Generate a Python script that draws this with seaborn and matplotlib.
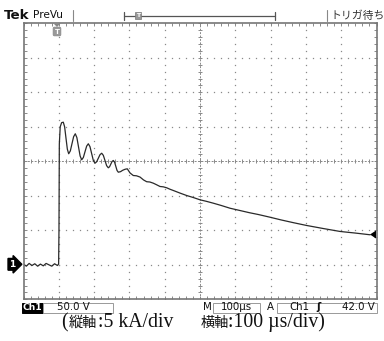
import numpy as np
import matplotlib
matplotlib.use("Agg")
import matplotlib.pyplot as plt
import seaborn as sns
from matplotlib.patches import Rectangle, Polygon
from matplotlib.lines import Line2D

# ---- data (time in µs, current in kA) ----
time_us = [0, 8, 16, 24, 32, 40, 48, 56, 64, 72, 80, 88, 96, 99.5,
           100.5, 101.5, 104, 108, 112.7,
           116.5, 120.3, 124.2, 128, 132.7, 137.3, 142, 146.7,
           151.2, 155.8, 160.4, 164.9, 169.6, 174.2, 178.9, 183.6,
           188.3, 193, 197.8, 202.5, 207.2, 212, 216.7, 221.5,
           226.2, 230.8, 235.5, 240.2, 243.8, 247.3, 250.9, 254.4,
           258, 261.5, 265, 268.6, 275, 281, 288, 294, 302, 311,
           320, 330, 340, 349, 358, 367.7, 377, 386.7, 396,
           405.7, 415, 424.4, 443, 462.3, 481, 500, 518, 537.7, 560, 585, 613,
           640, 665, 698, 730, 765, 802, 850, 897, 940, 982]
current_kA = [0.1, -0.2, 0.2, -0.1, 0.15, -0.2, 0.1, -0.15, 0.2, 0.0, -0.2, 0.15, -0.1, 0.1,
              5.0, 17.5, 20.0, 20.6, 20.67,
              20.0, 18.38, 16.76, 16.09, 16.51, 17.54, 18.57, 18.99,
              18.44, 17.1, 15.77, 15.22, 15.56, 16.38, 17.2, 17.54,
              17.13, 16.13, 15.13, 14.72, 14.93, 15.45, 15.96, 16.17,
              15.86, 15.12, 14.37, 14.06, 14.21, 14.59, 14.97, 15.12,
              14.87, 14.27, 13.67, 13.42, 13.5, 13.7, 13.85, 13.91, 13.3, 12.94,
              12.9, 12.72, 12.3, 12.04, 12.0, 11.83, 11.6, 11.35, 11.3,
              11.16, 10.95, 10.77, 10.4, 10.04, 9.75, 9.42, 9.2, 8.93, 8.6, 8.20, 7.87,
              7.55, 7.29, 6.9, 6.5, 6.1, 5.7, 5.25, 4.83, 4.6, 4.35]

x_major = list(range(0, 1001, 100))
y_major = list(range(-5, 36, 5))
caption_parts = ["(", "縦軸", ":5 kA/div", "横軸", ":100 µs/div)"]

W, H = 384, 341
def px(x, y):
    return (x / W, 1 - y / H)

sns.set_style("white")
fig = plt.figure(figsize=(W / 100, H / 100), dpi=100)
fig.patch.set_facecolor("white")
ax = fig.add_axes([23.5 / W, 1 - 299.3 / H, 353 / W, 276 / H])
ax.set_xlim(0, 1000)
ax.set_ylim(-5, 35)

grid_c = "#8a8a8a"
# dotted graticule
x_minor = np.arange(0, 1001, 20)
y_minor = np.arange(-5, 35.01, 1)
for xm in x_major[1:-1]:
    if xm == 500:
        continue
    ax.plot([xm] * len(y_minor), y_minor, ls="none", marker="s", ms=0.9, color=grid_c, mew=0)
for ym in y_major[1:-1]:
    if ym == 15:
        continue
    ax.plot(x_minor, [ym] * len(x_minor), ls="none", marker="s", ms=0.9, color=grid_c, mew=0)
# centre cross
ax.axvline(500, color=grid_c, lw=0.7, ls=(0, (2, 1.5)))
ax.axhline(15, color=grid_c, lw=0.7, ls=(0, (2, 1.5)))
ax.vlines(x_minor, 15 - 0.3, 15 + 0.3, color=grid_c, lw=0.7)
ax.hlines(y_minor, 500 - 6, 500 + 6, color=grid_c, lw=0.7)

# border ticks
ax.set_xticks(x_minor)
ax.set_yticks(y_minor)
ax.tick_params(direction="in", length=2.5, width=0.7, color=grid_c,
               top=True, right=True, bottom=True, left=True,
               labelbottom=False, labelleft=False)
for s in ax.spines.values():
    s.set_color("#777777")
    s.set_linewidth(1.2)

# trace
sns.lineplot(x=time_us, y=current_kA, ax=ax, color="#2a2a2a", lw=0.9,
             estimator=None, sort=False)
ax.set_xlabel("")
ax.set_ylabel("")

# ---- top status bar ----
fig.text(*px(4, 15.5), "Tek", fontsize=9.6, fontweight="bold", va="center", ha="left", color="#111")
fig.text(*px(32.5, 15.5), "PreVu", fontsize=7.6, va="center", ha="left", color="#111")
for xs in (72.5, 326.5):
    fig.add_artist(Line2D([xs / W, xs / W], [1 - 10 / H, 1 - 21 / H], color="#888", lw=0.8))
fig.add_artist(Line2D([123.5 / W, 275 / W], [1 - 15.5 / H] * 2, color="#555", lw=0.9))
for xs in (123.5, 275):
    fig.add_artist(Line2D([xs / W, xs / W], [1 - 11.5 / H, 1 - 19.5 / H], color="#555", lw=0.9))
fig.text(*px(138, 15.5), "T", fontsize=4.5, ha="center", va="center", color="white",
         fontweight="bold", bbox=dict(boxstyle="square,pad=0.15", fc="#999", ec="#777", lw=0.5))
fig.text(*px(330, 15.5), "トリガ待ち", fontsize=7.8, va="center", ha="left", color="#333",
         family=["Noto Sans CJK JP", "DejaVu Sans"])

# trigger position marker
fig.add_artist(Polygon([px(53.5, 23.5), px(60.5, 23.5), px(57, 27)], closed=True,
                       fc="#888", ec="none", transform=fig.transFigure))
fig.text(*px(57, 31.5), "T", fontsize=5, ha="center", va="center", color="white",
         fontweight="bold", bbox=dict(boxstyle="round,pad=0.2", fc="#999", ec="#888", lw=0.5))

# ground marker
fig.text(*px(12.5, 264.3), "1", fontsize=6.5, ha="center", va="center", color="white",
         fontweight="bold", bbox=dict(boxstyle="rarrow,pad=0.15", fc="black", ec="black"))
# trigger level marker
fig.add_artist(Polygon([px(376, 230.5), px(376, 238.5), px(370, 234.5)], closed=True,
                       fc="black", ec="none", transform=fig.transFigure))

# ---- bottom status bar ----
def box(x0, x1, y0=302.5, y1=312.5, fc="white", ec="#999"):
    fig.add_artist(Rectangle(px(x0, y1), (x1 - x0) / W, (y1 - y0) / H, fc=fc, ec=ec, lw=0.7,
                             transform=fig.transFigure))

fs = 7.4
box(21.5, 42.5, fc="black", ec="black")
fig.text(*px(32, 307.5), "Ch1", fontsize=6.6, fontweight="bold", color="white", ha="center", va="center")
box(43, 113)
fig.text(*px(57, 307.5), "50.0 V", fontsize=fs, color="#111", ha="left", va="center")
fig.text(*px(212, 307.5), "M", fontsize=fs, color="#111", ha="right", va="center")
box(212.5, 260)
fig.text(*px(236, 307.5), "100µs", fontsize=fs, color="#111", ha="center", va="center")
fig.text(*px(267, 307.5), "A", fontsize=fs, color="#111", ha="left", va="center")
box(276.5, 377)
fig.text(*px(289, 307.5), "Ch1", fontsize=fs, color="#111", ha="left", va="center")
fig.text(*px(318, 307.5), "ʃ", fontsize=fs, color="#111", ha="center", va="center", fontweight="bold")
fig.text(*px(375, 307.5), "42.0 V", fontsize=fs, color="#111", ha="right", va="center")

# caption (pieces placed to follow the reference spacing)
cap_x = [61.5, 68.5, 97.5, 200.5, 228.5]
for part, xx in zip(caption_parts, cap_x):
    is_cjk = any(ord(c) > 0x3000 for c in part)
    fig.text(*px(xx, 327.0), part, fontsize=10.2 if is_cjk else 14.2, ha="left",
             va="baseline", color="#111",
             family=["Noto Sans CJK JP"] if is_cjk else ["Liberation Serif", "DejaVu Sans"])

fig.savefig("out.png", dpi=100)
